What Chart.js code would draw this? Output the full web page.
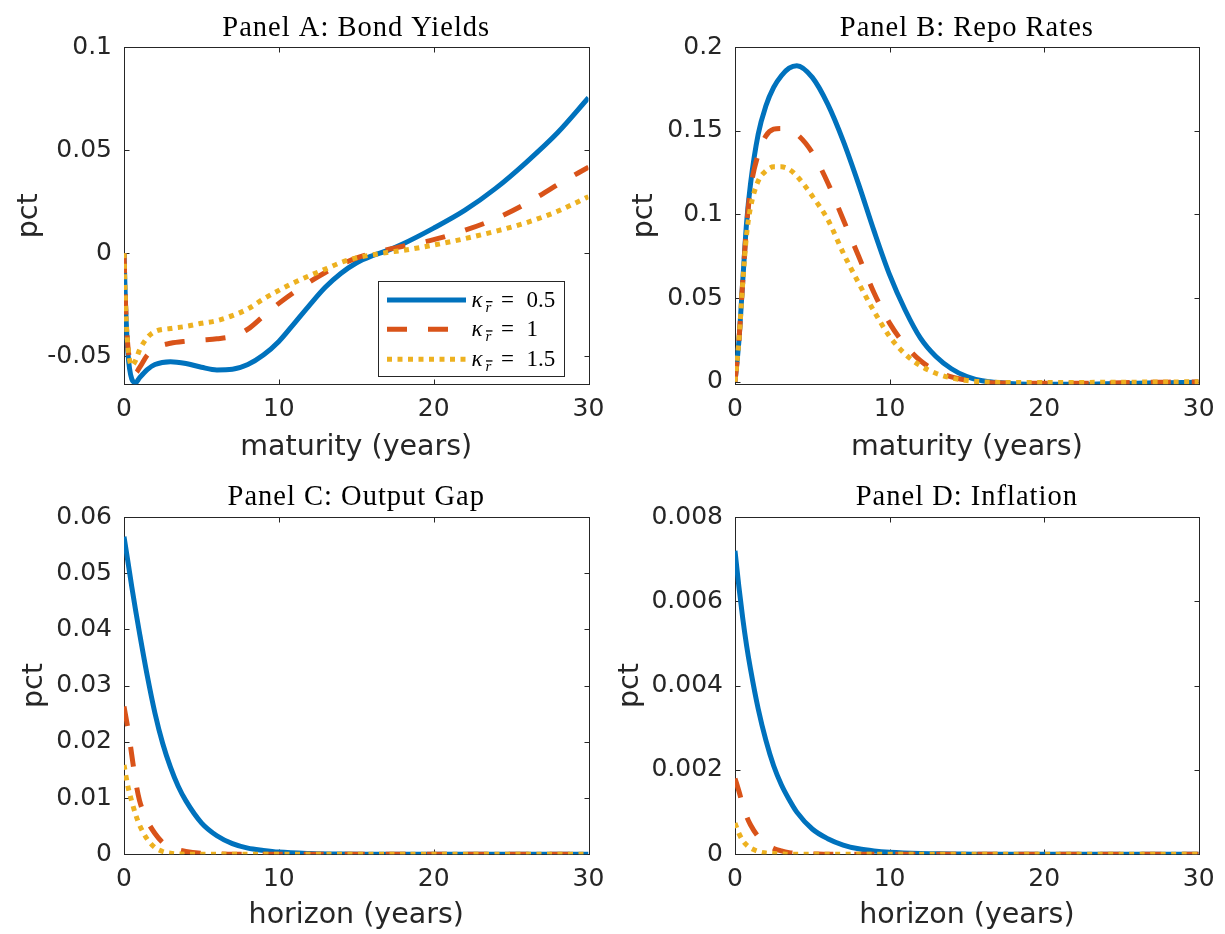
<!DOCTYPE html>
<html><head><meta charset="utf-8">
<script src="https://cdn.jsdelivr.net/npm/chart.js@4.4.1/dist/chart.umd.min.js"></script>
<style>
html,body{margin:0;padding:0;background:#fff;width:1225px;height:934px;overflow:hidden}
canvas{position:absolute}
</style></head><body>
<canvas id="cA" width="612" height="467" style="left:0;top:0"></canvas>
<canvas id="cB" width="613" height="467" style="left:612px;top:0"></canvas>
<canvas id="cC" width="612" height="467" style="left:0;top:467px"></canvas>
<canvas id="cD" width="613" height="467" style="left:612px;top:467px"></canvas>
<script>
// ---------- data ----------
const seriesLabels = ['κ_r̄ = 0.5', 'κ_r̄ = 1', 'κ_r̄ = 1.5'];
const seriesKappa = ['0.5', '1', '1.5'];

const titles = ['Panel A: Bond Yields', 'Panel B: Repo Rates', 'Panel C: Output Gap', 'Panel D: Inflation'];
const xTitles = ['maturity (years)', 'maturity (years)', 'horizon (years)', 'horizon (years)'];
const yTitle = 'pct';

const xTicks = [0, 10, 20, 30];
const xTickLabels = ['0', '10', '20', '30'];

const yTicksA = [-0.05, 0, 0.05, 0.1];
const yTickLabelsA = ['-0.05', '0', '0.05', '0.1'];
const yTicksB = [0, 0.05, 0.1, 0.15, 0.2];
const yTickLabelsB = ['0', '0.05', '0.1', '0.15', '0.2'];
const yTicksC = [0, 0.01, 0.02, 0.03, 0.04, 0.05, 0.06];
const yTickLabelsC = ['0', '0.01', '0.02', '0.03', '0.04', '0.05', '0.06'];
const yTicksD = [0, 0.002, 0.004, 0.006, 0.008];
const yTickLabelsD = ['0', '0.002', '0.004', '0.006', '0.008'];

// Panel A: bond yields by maturity
const xA = [0, 0.1, 0.25, 0.5, 0.75, 1, 1.5, 2, 3, 4, 5, 6, 7, 8, 9, 10, 11, 12, 13, 14, 15, 16, 17, 18, 20, 22, 24, 26, 28, 30];
const yieldK05 = [0, -0.025, -0.048, -0.061, -0.0628, -0.0605, -0.0565, -0.054, -0.0526, -0.0535, -0.0553, -0.0566, -0.0563, -0.054, -0.0494, -0.0428, -0.034, -0.025, -0.0165, -0.0098, -0.0047, -0.0013, 0.0013, 0.0045, 0.0122, 0.0208, 0.0315, 0.0443, 0.0585, 0.0755];
const yieldK1 = [0, -0.025, -0.045, -0.0555, -0.058, -0.0555, -0.0495, -0.046, -0.0437, -0.0427, -0.0421, -0.0415, -0.0403, -0.0368, -0.0305, -0.0243, -0.0188, -0.0138, -0.0093, -0.0055, -0.0023, 0, 0.0018, 0.0034, 0.0066, 0.0111, 0.0168, 0.0243, 0.0333, 0.0418];
const yieldK15 = [0, -0.025, -0.045, -0.0545, -0.052, -0.047, -0.041, -0.038, -0.0365, -0.0355, -0.034, -0.0327, -0.0303, -0.027, -0.0222, -0.018, -0.0142, -0.0108, -0.0077, -0.0045, -0.0022, -0.0008, 0.0004, 0.0014, 0.004, 0.0071, 0.0107, 0.0149, 0.0204, 0.0275];

// Panel B: repo rates by maturity
const xB = [0, 0.25, 0.5, 0.75, 1, 1.5, 2, 2.5, 3, 3.5, 4, 5, 6, 7, 8, 9, 10, 11, 12, 13, 14, 15, 16, 18, 20, 22, 24, 26, 28, 30];
const repoK05 = [0, 0.024, 0.06, 0.095, 0.118, 0.148, 0.165, 0.176, 0.183, 0.1875, 0.189, 0.182, 0.166, 0.144, 0.118, 0.090, 0.064, 0.043, 0.026, 0.015, 0.0077, 0.003, 0.0005, -0.0012, -0.0016, -0.0016, -0.0013, -0.0009, -0.0006, -0.0003];
const repoK1 = [0, 0.024, 0.06, 0.093, 0.115, 0.136, 0.147, 0.151, 0.1515, 0.150, 0.148, 0.137, 0.119, 0.097, 0.075, 0.053, 0.035, 0.022, 0.0125, 0.0065, 0.0028, 0.0008, -0.0003, -0.0009, -0.001, -0.001, -0.0008, -0.0005, -0.0003, -0.0002];
const repoK15 = [0, 0.024, 0.059, 0.088, 0.104, 0.120, 0.126, 0.1285, 0.1285, 0.127, 0.123, 0.111, 0.097, 0.077, 0.059, 0.042, 0.027, 0.0165, 0.0095, 0.005, 0.0022, 0.0007, -0.0001, -0.0005, -0.0005, -0.0005, -0.0004, -0.0003, -0.0002, -0.0001];

// Panels C and D: responses by horizon
const xH = [0, 0.25, 0.5, 0.75, 1, 1.5, 2, 2.5, 3, 3.5, 4, 5, 6, 7, 8, 9, 10, 12, 14, 16, 18, 20, 25, 30];
const gapK05 = [0.0565, 0.0521, 0.0476, 0.0434, 0.0394, 0.0318, 0.0251, 0.0197, 0.0155, 0.0121, 0.0095, 0.0056, 0.0033, 0.0019, 0.0011, 0.0007, 0.0004, 0.00015, 0.00005, 0.00002, 0, 0, 0, 0];
const gapK1 = [0.0263, 0.0224, 0.0177, 0.013, 0.0096, 0.006, 0.0037, 0.0021, 0.0012, 0.0008, 0.0005, 0.0002, 0.0001, 0, 0, 0, 0, 0, 0, 0, 0, 0, 0, 0];
const gapK15 = [0.0159, 0.0121, 0.0094, 0.0071, 0.0052, 0.0027, 0.0012, 0.0005, 0.0002, 0.00005, 0, 0, 0, 0, 0, 0, 0, 0, 0, 0, 0, 0, 0, 0];
const inflK05 = [0.0072, 0.00635, 0.0056, 0.00495, 0.0044, 0.00345, 0.0027, 0.0021, 0.00165, 0.0013, 0.001, 0.0006, 0.00037, 0.00022, 0.00013, 0.00008, 0.00005, 0.00002, 0.00001, 0, 0, 0, 0, 0];
const inflK1 = [0.0018, 0.0015, 0.00118, 0.0009, 0.0007, 0.00042, 0.00025, 0.00014, 0.00008, 0.00004, 0.00002, 0.00001, 0, 0, 0, 0, 0, 0, 0, 0, 0, 0, 0, 0];
const inflK15 = [0.00074, 0.0005, 0.00033, 0.00022, 0.00015, 0.00007, 0.00003, 0.00002, 0.00001, 0, 0, 0, 0, 0, 0, 0, 0, 0, 0, 0, 0, 0, 0, 0];

// ---------- styles ----------
const colors = ['#0072BD', '#D95319', '#EDB120'];
const dashes = [[], [20, 21], [5, 5.5]];
const lineW = 5;
const axisColor = '#262626';
const tickFont = {family: 'DejaVu Sans', size: 25};
const labelFont = {family: 'DejaVu Sans', size: 28.5};

const panels = [
  {id: 'cA', w: 612, h: 467, cl: 124, cr: 588.5, ct: 47.3, cb: 384.3, x: xA, series: [yieldK05, yieldK1, yieldK15],
   yMin: -0.0636, yMax: 0.1, yTicks: yTicksA, yLabels: yTickLabelsA, title: titles[0], xTitle: xTitles[0], yTitlePad: 12.5, xTitlePad: 2, legend: true},
  {id: 'cB', w: 613, h: 467, cl: 123, cr: 586.7, ct: 47.3, cb: 384.3, x: xB, series: [repoK05, repoK1, repoK15],
   yMin: -0.0016, yMax: 0.2, yTicks: yTicksB, yLabels: yTickLabelsB, title: titles[1], xTitle: xTitles[1], yTitlePad: 15.5, xTitlePad: 2},
  {id: 'cC', w: 612, h: 467, cl: 124, cr: 588.5, ct: 50, cb: 387.3, x: xH, series: [gapK05, gapK1, gapK15],
   yMin: 0, yMax: 0.06, yTicks: yTicksC, yLabels: yTickLabelsC, title: titles[2], xTitle: xTitles[2], yTitlePad: 17.5, xTitlePad: 1},
  {id: 'cD', w: 613, h: 467, cl: 123, cr: 586.7, ct: 50, cb: 387.3, x: xH, series: [inflK05, inflK1, inflK15],
   yMin: 0, yMax: 0.008, yTicks: yTicksD, yLabels: yTickLabelsD, title: titles[3], xTitle: xTitles[3], yTitlePad: 1, xTitlePad: 1}
];

const framePlugin = {
  id: 'frame',
  beforeDatasetsDraw(chart) {
    const {ctx, chartArea: a, scales} = chart;
    ctx.save();
    ctx.strokeStyle = axisColor;
    ctx.lineWidth = 1;
    const L = Math.round(a.left) + 0.5, R = Math.round(a.right) + 0.5, T = Math.round(a.top) + 0.5, B = Math.round(a.bottom) + 0.5;
    ctx.strokeRect(L, T, R - L, B - T);
    ctx.beginPath();
    scales.x.ticks.forEach(t => {
      const px = Math.round(scales.x.getPixelForValue(t.value)) + 0.5;
      ctx.moveTo(px, B); ctx.lineTo(px, B - 5);
      ctx.moveTo(px, T); ctx.lineTo(px, T + 5);
    });
    scales.y.ticks.forEach(t => {
      const py = Math.round(scales.y.getPixelForValue(t.value)) + 0.5;
      ctx.moveTo(L, py); ctx.lineTo(L + 5, py);
      ctx.moveTo(R, py); ctx.lineTo(R - 5, py);
    });
    ctx.stroke();
    ctx.restore();
  },
  afterDraw(chart) {
    const {ctx, chartArea: a} = chart;
    const p = chart.config.options.panel;
    ctx.save();
    // title
    ctx.fillStyle = '#000';
    ctx.font = '28.5px "Liberation Serif"';
    try { ctx.letterSpacing = '1px'; } catch (e) {}
    ctx.textAlign = 'center';
    ctx.textBaseline = 'alphabetic';
    ctx.fillText(p.title, (a.left + a.right) / 2, a.top - 11.6);
    try { ctx.letterSpacing = '0px'; } catch (e) {}
    if (p.legend) {
      const bx = 378.5, by = 281.5, bw = 186, bh = 95;
      ctx.fillStyle = '#fff';
      ctx.fillRect(bx, by, bw, bh);
      ctx.strokeStyle = axisColor;
      ctx.lineWidth = 1;
      ctx.strokeRect(bx, by, bw, bh);
      const rows = [300, 329.3, 359.3];
      chart.data.datasets.forEach((ds, i) => {
        const y = rows[i];
        ctx.save();
        ctx.strokeStyle = ds.borderColor;
        ctx.lineWidth = ds.borderWidth;
        ctx.lineCap = 'butt';
        ctx.setLineDash(ds.borderDash || []);
        ctx.beginPath();
        ctx.moveTo(387, y); ctx.lineTo(466, y);
        ctx.stroke();
        ctx.restore();
        const base = y + 7;
        ctx.fillStyle = '#000';
        ctx.textAlign = 'left';
        ctx.font = 'italic 23px "Liberation Serif"';
        ctx.fillText('κ', 471.5, base);
        ctx.font = 'italic 15px "Liberation Serif"';
        ctx.fillText('r', 485.5, base + 5);
        ctx.fillRect(486, base - 6, 6.5, 1.3);
        ctx.font = '23px "Liberation Serif"';
        ctx.fillText('=', 501, base);
        ctx.fillText(seriesKappa[i], 526.5, base);
      });
    }
    ctx.restore();
  }
};

panels.forEach(p => {
  new Chart(document.getElementById(p.id), {
    type: 'line',
    data: {
      datasets: p.series.map((s, i) => ({
        label: seriesLabels[i],
        data: p.x.map((xv, j) => ({x: xv, y: s[j]})),
        borderColor: colors[i],
        backgroundColor: colors[i],
        borderWidth: lineW,
        borderDash: dashes[i],
        borderCapStyle: 'butt',
        borderJoinStyle: 'round',
        pointRadius: 0,
        fill: false,
        cubicInterpolationMode: 'monotone',
        order: 3 - i
      }))
    },
    options: {
      panel: p,
      responsive: false,
      animation: false,
      devicePixelRatio: 1,
      layout: {padding: {top: p.ct, right: p.w - p.cr, left: 0, bottom: 0}},
      plugins: {legend: {display: false}, tooltip: {enabled: false}, title: {display: false}},
      scales: {
        x: {
          type: 'linear', min: 0, max: 30,
          grid: {display: false, drawTicks: false},
          border: {display: false},
          afterBuildTicks: s => { s.ticks = xTicks.map(v => ({value: v})); },
          afterFit: s => { s.height = p.h - p.cb; s.paddingLeft = 0; s.paddingRight = 0; },
          ticks: {font: tickFont, color: axisColor, padding: 10, maxRotation: 0, autoSkip: false,
                  callback: (v, i) => xTickLabels[i]},
          title: {display: true, text: p.xTitle, font: labelFont, color: axisColor, padding: {top: 0, bottom: p.xTitlePad}}
        },
        y: {
          type: 'linear', min: p.yMin, max: p.yMax,
          grid: {display: false, drawTicks: false},
          border: {display: false},
          afterBuildTicks: s => { s.ticks = p.yTicks.map(v => ({value: v})); },
          afterFit: s => { s.width = p.cl; s.paddingTop = 0; s.paddingBottom = 0; },
          ticks: {font: tickFont, color: axisColor, padding: 12, autoSkip: false,
                  callback: (v, i) => p.yLabels[i]},
          title: {display: true, text: yTitle, font: labelFont, color: axisColor, padding: {top: p.yTitlePad, bottom: 0}}
        }
      }
    },
    plugins: [framePlugin]
  });
});
</script>
</body></html>
